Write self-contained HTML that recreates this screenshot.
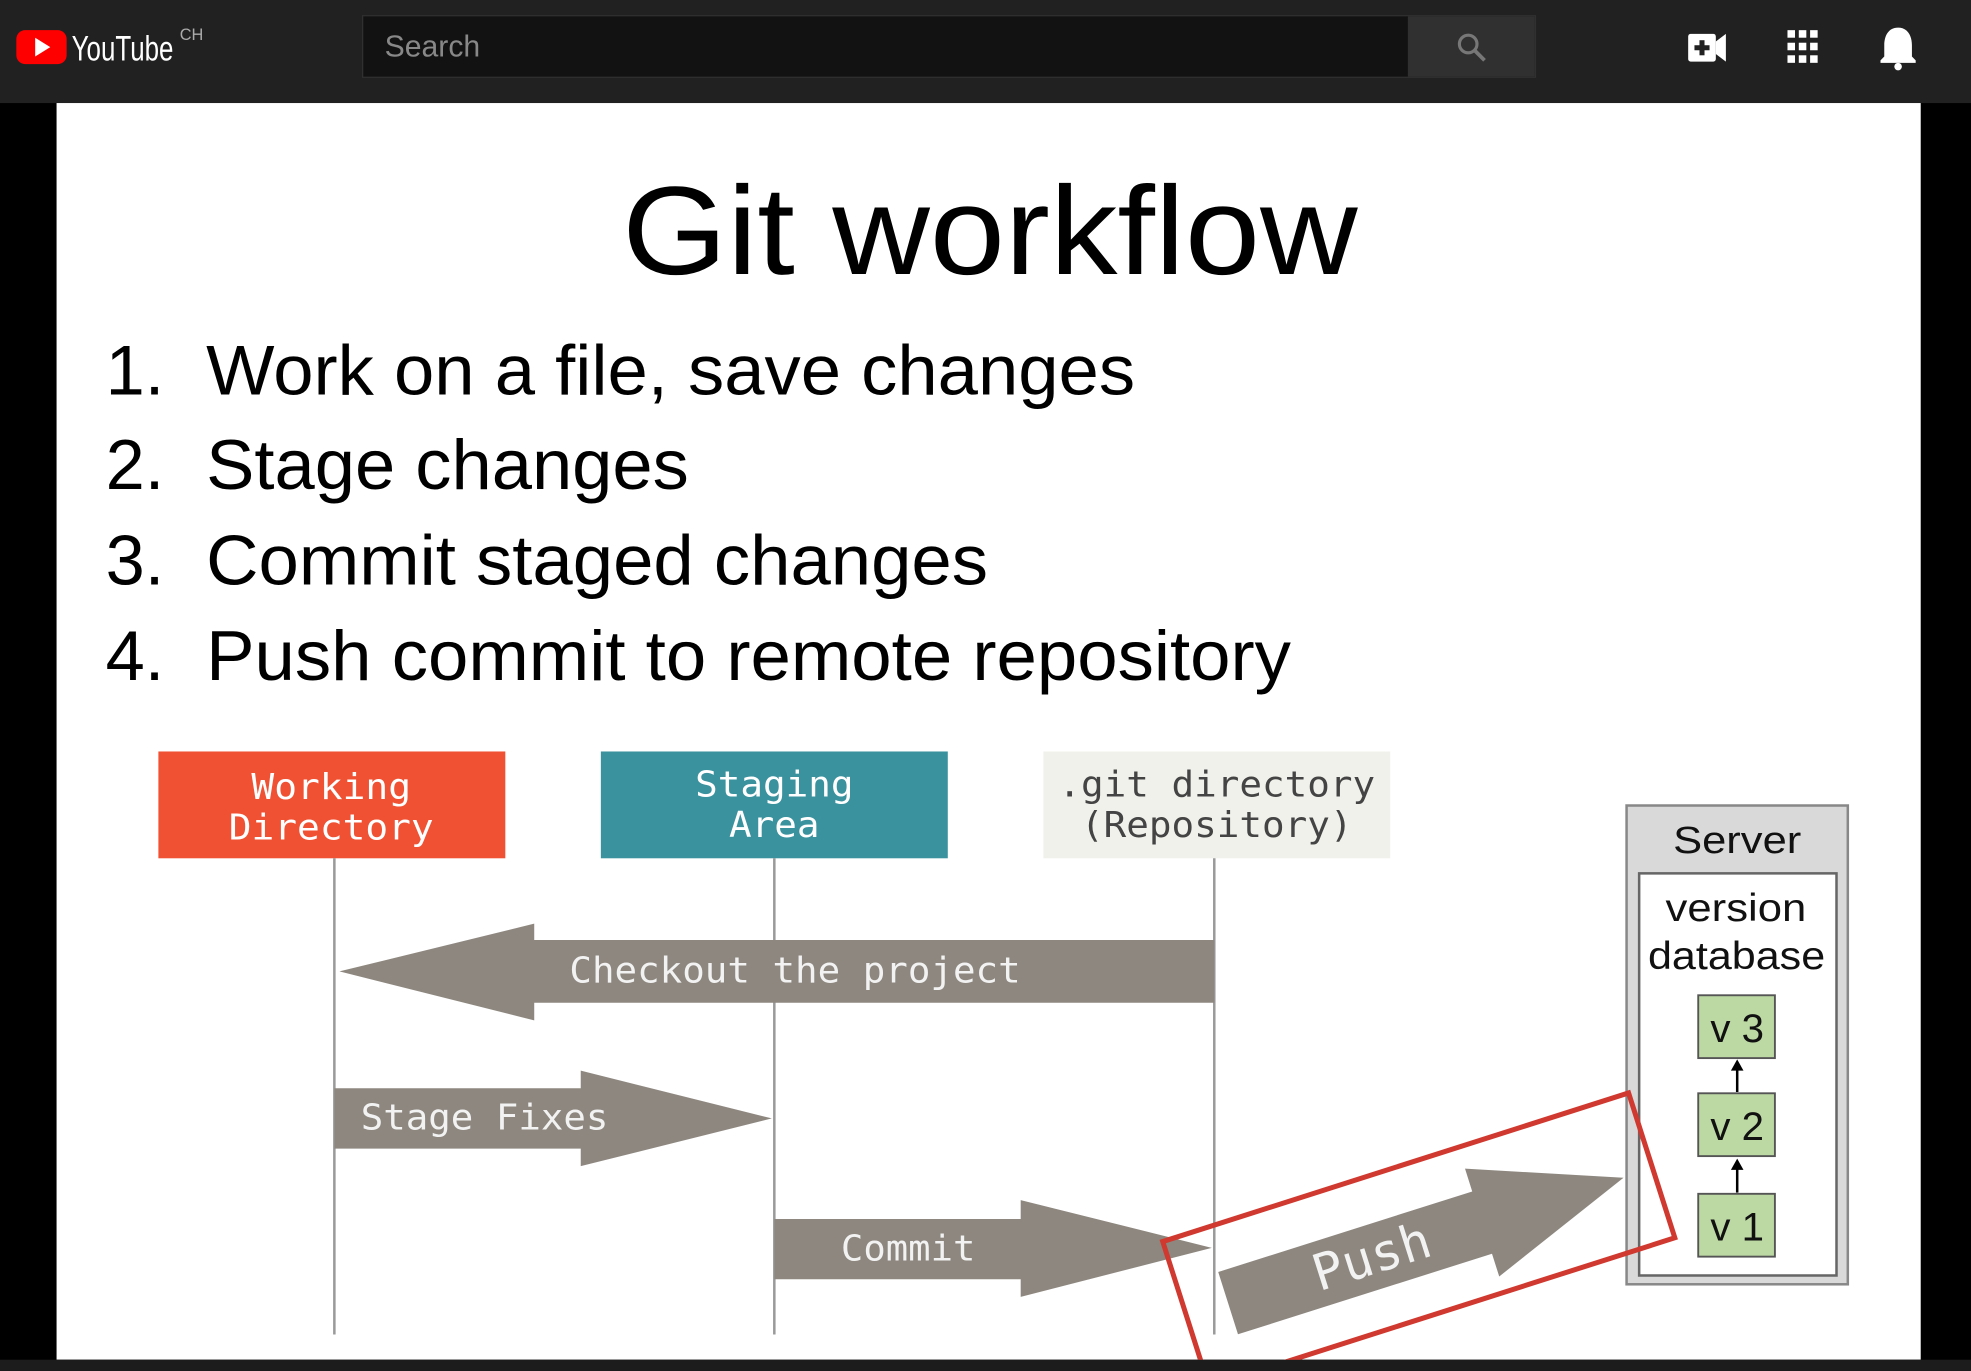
<!DOCTYPE html>
<html><head><meta charset="utf-8"><style>
html,body{margin:0;padding:0;background:#000;}
svg{display:block;}
</style></head><body>
<svg width="1971" height="1371" viewBox="0 0 1568 1091" preserveAspectRatio="none" xmlns="http://www.w3.org/2000/svg">
<defs><clipPath id="slide"><rect x="45" y="82" width="1483" height="1000"/></clipPath></defs>
<rect x="0" y="0" width="1568" height="1091" fill="#000"/>
<rect x="0" y="0" width="1568" height="82" fill="#212121"/>
<rect x="13" y="24" width="40" height="27" rx="7" fill="#f00"/>
<polygon points="28,30 28,45 40,37.5" fill="#fff"/>
<text x="57" y="48" font-family="Liberation Sans Narrow, Liberation Sans, sans-serif" font-size="28" fill="#fff" textLength="81" lengthAdjust="spacingAndGlyphs">YouTube</text>
<text x="143" y="32" font-family="Liberation Sans, sans-serif" font-size="13" fill="#aaa">CH</text>
<rect x="288.5" y="12.5" width="933" height="49" fill="#121212" stroke="#303030"/>
<rect x="1120" y="13" width="101" height="48" fill="#303030"/>
<text x="306" y="45" font-family="Liberation Sans, sans-serif" font-size="24" fill="#888">Search</text>
<circle cx="1168" cy="35" r="7" fill="none" stroke="#777" stroke-width="2.5"/>
<line x1="1173" y1="40" x2="1181" y2="48" stroke="#777" stroke-width="3"/>
<rect x="1343" y="27" width="22" height="22" rx="2" fill="#fff"/>
<polygon points="1365,33 1373,27 1373,49 1365,43" fill="#fff"/>
<rect x="1352" y="32" width="4" height="12" fill="#212121"/><rect x="1348" y="36" width="12" height="4" fill="#212121"/>
<g fill="#fff">
<rect x="1422" y="24" width="6" height="6"/><rect x="1431" y="24" width="6" height="6"/><rect x="1440" y="24" width="6" height="6"/>
<rect x="1422" y="34" width="6" height="6"/><rect x="1431" y="34" width="6" height="6"/><rect x="1440" y="34" width="6" height="6"/>
<rect x="1422" y="44" width="6" height="6"/><rect x="1431" y="44" width="6" height="6"/><rect x="1440" y="44" width="6" height="6"/>
<path d="M1510,22 c-8,0 -11,7 -11,14 l0,9 -3,3 0,2 28,0 0,-2 -3,-3 0,-9 c0,-7 -3,-14 -11,-14z"/>
<circle cx="1510" cy="53" r="3"/>
</g>
<rect x="45" y="82" width="1483" height="1000" fill="#fff"/>
<rect x="0" y="1082" width="1568" height="9" fill="#1c1c1c"/>
<text x="495" y="218" font-family="Liberation Sans, sans-serif" font-size="100" fill="#000" textLength="585" lengthAdjust="spacingAndGlyphs">Git workflow</text>
<g font-family="Liberation Sans, sans-serif" font-size="56" fill="#000">
<text x="84" y="314">1.</text><text x="164" y="314" textLength="739" lengthAdjust="spacingAndGlyphs">Work on a file, save changes</text>
<text x="84" y="389">2.</text><text x="164" y="389" textLength="384" lengthAdjust="spacingAndGlyphs">Stage changes</text>
<text x="84" y="465">3.</text><text x="164" y="465" textLength="622" lengthAdjust="spacingAndGlyphs">Commit staged changes</text>
<text x="84" y="541">4.</text><text x="164" y="541" textLength="863" lengthAdjust="spacingAndGlyphs">Push commit to remote repository</text>
</g>
<rect x="126" y="598" width="276" height="85" fill="#f05133"/>
<rect x="478" y="598" width="276" height="85" fill="#3a929e"/>
<rect x="830" y="598" width="276" height="85" fill="#f1f1eb"/>
<g font-family="DejaVu Sans Mono, Liberation Mono, monospace" font-size="28">
<text x="200" y="636" fill="#fff" textLength="127" lengthAdjust="spacingAndGlyphs">Working</text><text x="182" y="668" fill="#fff" textLength="163" lengthAdjust="spacingAndGlyphs">Directory</text>
<text x="553" y="634" fill="#fff" textLength="126" lengthAdjust="spacingAndGlyphs">Staging</text><text x="580" y="666" fill="#fff" textLength="72" lengthAdjust="spacingAndGlyphs">Area</text>
<text x="842" y="634" fill="#444" textLength="252" lengthAdjust="spacingAndGlyphs">.git directory</text><text x="860" y="666" fill="#444" textLength="216" lengthAdjust="spacingAndGlyphs">(Repository)</text>
</g>
<g stroke="#9a9a9a" stroke-width="2">
<line x1="266" y1="683" x2="266" y2="1062"/><line x1="616" y1="683" x2="616" y2="1062"/><line x1="966" y1="683" x2="966" y2="1062"/>
</g>
<g fill="#8d877f">
<polygon points="966,748 425,748 425,735 270,773 425,812 425,798 966,798"/>
<polygon points="266,866 462,866 462,852 614,890 462,928 462,914 266,914"/>
<polygon points="616,970 812,970 812,955 964,993 812,1032 812,1018 616,1018"/>
</g>
<g font-family="DejaVu Sans Mono, Liberation Mono, monospace" font-size="28" fill="#f2f2f2">
<text x="453" y="782" textLength="359" lengthAdjust="spacingAndGlyphs">Checkout the project</text>
<text x="287" y="899" textLength="197" lengthAdjust="spacingAndGlyphs">Stage Fixes</text>
<text x="669" y="1003" textLength="107" lengthAdjust="spacingAndGlyphs">Commit</text>
</g>
<rect x="1294" y="641" width="176" height="381" fill="#d9d9d9" stroke="#888" stroke-width="2"/>
<rect x="1304" y="695" width="157" height="320" fill="#fff" stroke="#666" stroke-width="2"/>
<g font-family="Liberation Sans, sans-serif" fill="#111">
<text x="1331" y="679" font-size="30" textLength="102" lengthAdjust="spacingAndGlyphs">Server</text>
<text x="1325" y="733" font-size="31" textLength="112" lengthAdjust="spacingAndGlyphs">version</text>
<text x="1311" y="771" font-size="31" textLength="141" lengthAdjust="spacingAndGlyphs">database</text>
</g>
<g fill="#bcd8a3" stroke="#555" stroke-width="1.5">
<rect x="1351" y="792" width="61" height="50"/><rect x="1351" y="870" width="61" height="50"/><rect x="1351" y="950" width="61" height="50"/>
</g>
<g font-family="Liberation Sans, sans-serif" font-size="32" text-anchor="middle" fill="#111">
<text x="1382" y="829">v 3</text><text x="1382" y="907">v 2</text><text x="1382" y="987">v 1</text>
</g>
<g stroke="#000" stroke-width="2"><line x1="1382" y1="869" x2="1382" y2="848"/><line x1="1382" y1="949" x2="1382" y2="927"/></g>
<polygon points="1382,843 1377,852 1387,852"/><polygon points="1382,922 1377,931 1387,931"/>
<g clip-path="url(#slide)">
<g transform="translate(977,1037) rotate(-17.6)">
<polygon points="0,-26 212,-26 212,-45 330,0 212,45 212,26 0,26" fill="#8d877f"/>
<text x="120" y="13" text-anchor="middle" font-family="DejaVu Sans Mono, Liberation Mono, monospace" font-size="40" fill="#f2f2f2">Push</text>
</g>
<rect x="0" y="0" width="389" height="121" fill="none" stroke="#d0392f" stroke-width="4" transform="translate(925,988) rotate(-17.7)"/>
</g>
</svg>
</body></html>
